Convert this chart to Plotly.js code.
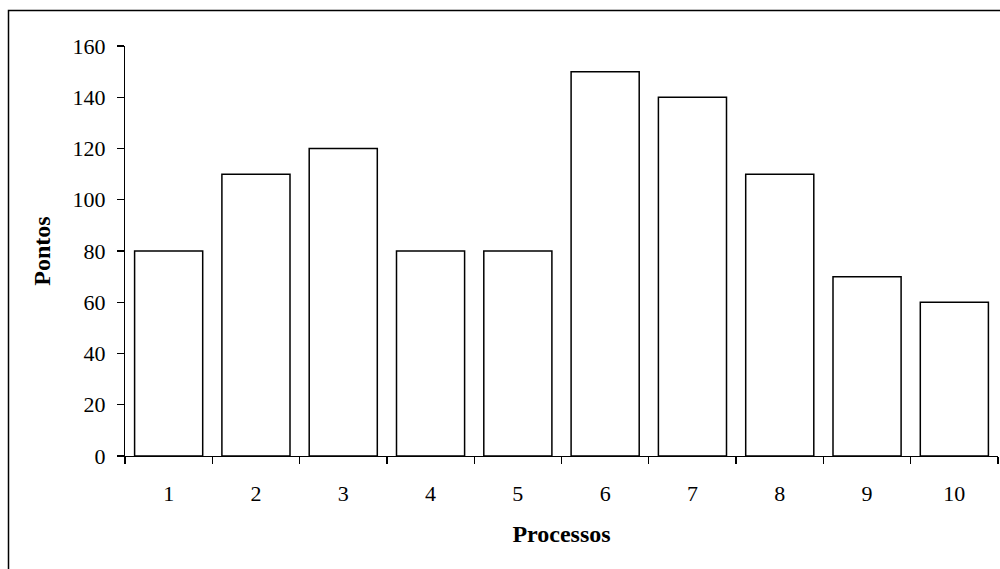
<!DOCTYPE html>
<html>
<head>
<meta charset="utf-8">
<script src="https://cdn.plot.ly/plotly-3.0.1.min.js"></script>
<style>html,body{margin:0;padding:0;background:#fff;}#chart{width:1000px;height:569px;}</style>
</head>
<body>
<div id="chart"></div>
<script>
var processos = ['1','2','3','4','5','6','7','8','9','10'];
var pontos = [80, 110, 120, 80, 80, 150, 140, 110, 70, 60];
var yTicks = [0, 20, 40, 60, 80, 100, 120, 140, 160];

var tickFont = {family: 'Liberation Serif, Times New Roman, serif', color: '#000', size: 22};
var titleFont = {family: 'Liberation Serif, Times New Roman, serif', color: '#000', size: 24};

Plotly.newPlot('chart', [{
  type: 'bar',
  x: processos,
  y: pontos,
  marker: {color: '#ffffff', line: {color: '#000', width: 1.5}},
  hoverinfo: 'none'
}], {
  width: 1000, height: 569,
  margin: {l: 125, r: 2, t: 46, b: 113},
  paper_bgcolor: '#fff', plot_bgcolor: '#fff',
  bargap: 0.22,
  font: tickFont,
  showlegend: false,
  xaxis: {
    type: 'category',
    showline: true, linecolor: '#000', linewidth: 1.2,
    ticks: 'outside', ticklen: 7, tickcolor: '#000', tickwidth: 1.2,
    tickson: 'boundaries',
    ticklabelstandoff: 17,
    showgrid: false, zeroline: false,
    tickfont: tickFont,
    title: {text: '<b>Processos</b>', font: titleFont, standoff: 20}
  },
  yaxis: {
    range: [0, 160],
    tickvals: yTicks,
    showline: true, linecolor: '#000', linewidth: 1.2,
    ticks: 'outside', ticklen: 7, tickcolor: '#000', tickwidth: 1.2,
    ticklabelstandoff: 7,
    showgrid: false, zeroline: false,
    tickfont: tickFont,
    title: {text: '<b>Pontos</b>', font: titleFont, standoff: 15}
  },
  shapes: [{
    type: 'rect', xref: 'paper', yref: 'paper',
    x0: (8.5 - 125) / 873, x1: 1.2,
    y0: -0.5, y1: (456 - 10.5) / 410,
    line: {color: '#000', width: 1.5},
    fillcolor: 'rgba(0,0,0,0)'
  }]
}, {staticPlot: true});
</script>
</body>
</html>
